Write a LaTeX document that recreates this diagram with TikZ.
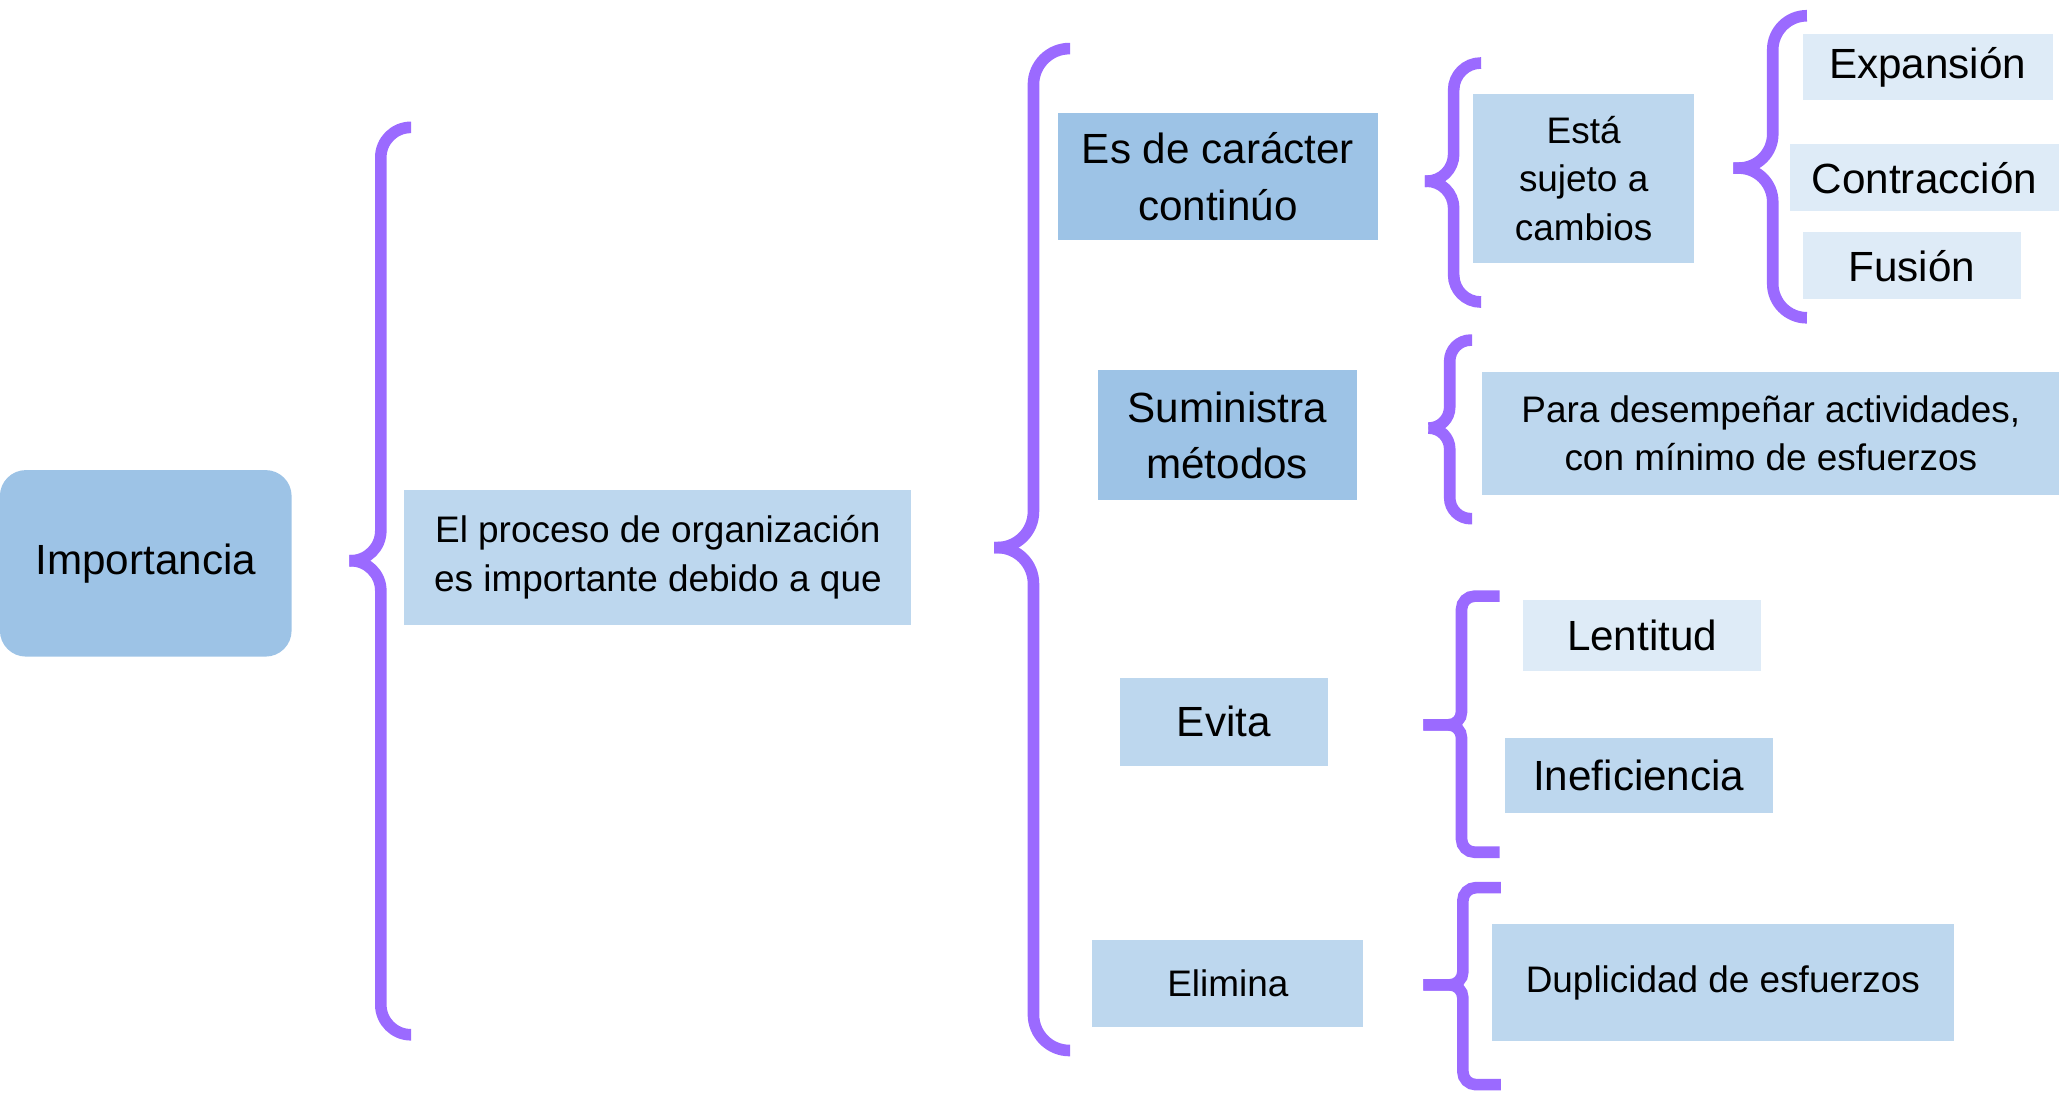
\documentclass[tikz,border=0pt]{standalone}
\usepackage{fontspec}
\setmainfont{Liberation Sans}
\definecolor{azulA}{HTML}{9DC3E6}
\definecolor{azulB}{HTML}{BDD7EE}
\definecolor{azulC}{HTML}{DEEBF7}
\definecolor{lila}{RGB}{155,106,255}

\begin{document}
\begin{tikzpicture}[x=0.01313cm, y=-0.01313cm,
    grande/.style={font=\fontsize{12}{16}\selectfont},
    chica/.style={font=\fontsize{10.5}{13.9}\selectfont},
    caja/.style={fill=#1, align=center, inner sep=0pt},
    llave/.style={draw=lila, line width=3.3pt, rounded corners=#1}]
  \useasboundingbox (0,0) rectangle (1568,833);

  \node[caja=azulA, grande, rounded corners=0.26cm, minimum width=2.915cm, minimum height=1.864cm] (imp) at (111,429) {Importancia};
  \node[caja=azulB, chica, minimum width=5.068cm, minimum height=1.352cm] (proc) at (501,424.5) {El proceso de organización\\es importante debido a que};

  \node[caja=azulA, grande, minimum width=3.191cm, minimum height=1.274cm] (cont) at (927.5,134.5) {Es de carácter\\continúo};
  \node[caja=azulA, grande, minimum width=2.587cm, minimum height=1.300cm] (sum) at (934.5,331.5) {Suministra\\métodos};
  \node[caja=azulB, grande, minimum width=2.075cm, minimum height=0.880cm] (evi) at (932,549.5) {Evita};
  \node[caja=azulB, chica, minimum width=2.705cm, minimum height=0.867cm] (eli) at (935,749) {Elimina};

  \node[caja=azulB, chica, minimum width=2.206cm, minimum height=1.681cm] (suj) at (1206,136) {Está\\sujeto a\\cambios};
  \node[caja=azulC, grande, minimum width=2.495cm, minimum height=0.657cm] (exp) at (1468,51) {Expansión};
  \node[caja=azulC, grande, minimum width=2.692cm, minimum height=0.670cm] (contr) at (1465.5,135.5) {Contracción};
  \node[caja=azulC, grande, minimum width=2.180cm, minimum height=0.670cm] (fus) at (1456,202.5) {Fusión};

  \node[caja=azulB, chica, minimum width=5.764cm, minimum height=1.234cm] (para) at (1348.5,330) {Para desempeñar actividades,\\con mínimo de esfuerzos};
  \node[caja=azulC, grande, minimum width=2.377cm, minimum height=0.709cm] (lent) at (1250.5,484) {Lentitud};
  \node[caja=azulB, grande, minimum width=2.679cm, minimum height=0.748cm] (inef) at (1248,590.5) {Ineficiencia};
  \node[caja=azulB, chica, minimum width=4.622cm, minimum height=1.169cm] (dup) at (1312,748.5) {Duplicidad de esfuerzos};

  % llaves: extremo de arriba, esquina, punta, extremo de abajo
  \coordinate (aT) at (313,97);   \coordinate (aV) at (290,427);  \coordinate (aP) at (266,427);  \coordinate (aB) at (313,788);
  \coordinate (bT) at (815,37);   \coordinate (bV) at (787,417);  \coordinate (bP) at (757,417);  \coordinate (bB) at (815,800);
  \coordinate (cT) at (1128,48);  \coordinate (cV) at (1107,138); \coordinate (cP) at (1085,138); \coordinate (cB) at (1128,230);
  \coordinate (dT) at (1376,12);  \coordinate (dV) at (1350,128); \coordinate (dP) at (1320,128); \coordinate (dB) at (1376,242);
  \coordinate (eT) at (1121,259); \coordinate (eV) at (1104,326); \coordinate (eP) at (1088,326); \coordinate (eB) at (1121,395);
  \coordinate (fT) at (1142,454); \coordinate (fV) at (1113,552); \coordinate (fP) at (1084,552); \coordinate (fB) at (1142,649);
  \coordinate (gT) at (1143,676); \coordinate (gV) at (1114,750); \coordinate (gP) at (1084,750); \coordinate (gB) at (1143,826);

  \draw[llave=0.30cm] (aT) -| (aV) -- (aP);
  \draw[llave=0.30cm] (aP) -- (aV) |- (aB);
  \draw[llave=0.36cm] (bT) -| (bV) -- (bP);
  \draw[llave=0.36cm] (bP) -- (bV) |- (bB);
  \draw[llave=0.27cm] (cT) -| (cV) -- (cP);
  \draw[llave=0.27cm] (cP) -- (cV) |- (cB);
  \draw[llave=0.34cm] (dT) -| (dV) -- (dP);
  \draw[llave=0.34cm] (dP) -- (dV) |- (dB);
  \draw[llave=0.21cm] (eT) -| (eV) -- (eP);
  \draw[llave=0.21cm] (eP) -- (eV) |- (eB);
  \draw[llave=0.13cm] (fT) -| (fV) -- (fP);
  \draw[llave=0.13cm] (fP) -- (fV) |- (fB);
  \draw[llave=0.13cm] (gT) -| (gV) -- (gP);
  \draw[llave=0.13cm] (gP) -- (gV) |- (gB);
\end{tikzpicture}
\end{document}
